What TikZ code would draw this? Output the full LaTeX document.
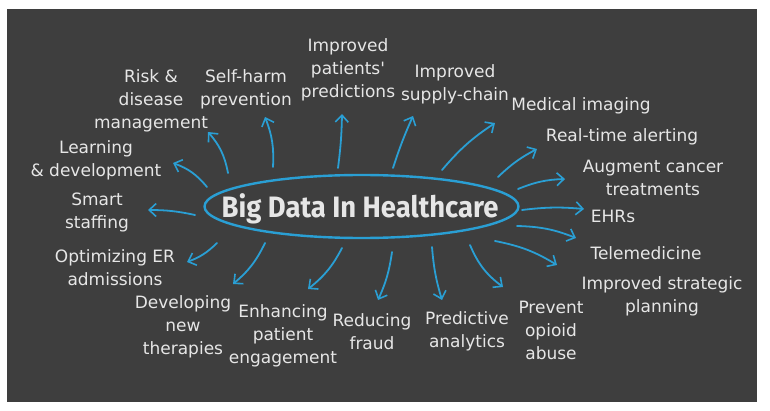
\documentclass[tikz,border=0pt]{standalone}
\usepackage{fontspec}
\usepackage{graphicx}
\usetikzlibrary{arrows.meta,shapes.geometric}
\newfontfamily\chalkfont{DejaVu Sans}
\newfontfamily\titlefont{Fira Sans}
\definecolor{board}{HTML}{3E3E3E}
\definecolor{chalk}{HTML}{E6E6E6}
\definecolor{chalkblue}{HTML}{2A9FD4}
\begin{document}
\begin{tikzpicture}[x=1pt,y=1pt,
  lbl/.style={font=\chalkfont\fontsize{17}{23}\selectfont, text=chalk, align=center, inner sep=0pt},
  arr/.style={draw=chalkblue, line width=1.8pt, line cap=round,
    -{Straight Barb[length=7pt,width=13pt,line width=1.6pt]}},
  hubstyle/.style={draw=chalkblue, line width=2.4pt, ellipse, inner sep=0pt,
    minimum width=314pt, minimum height=63pt}
]
\useasboundingbox (0,0) rectangle (770,410);
\fill[white] (0,0) rectangle (770,410);
\fill[board] (7,8) rectangle (757,401);

% central hub
\node[hubstyle] (hub) at (361.5,203.5) {};
\node[font=\titlefont\bfseries\fontsize{29.5}{32}\selectfont, text=chalk, anchor=base, inner sep=0pt]
  (title) at (360,193) {\scalebox{0.93}[1]{Big Data In Healthcare}};

% labels
\node[lbl] (risk) at (151,309.5) {Risk \&\\disease\\management};
\node[lbl] (selfharm) at (246,321) {Self-harm\\prevention};
\node[lbl] (patients) at (348,340) {Improved\\patients'\\predictions};
\node[lbl] (supply) at (455,325.5) {Improved\\supply-chain};
\node[lbl] (imaging) at (581,304) {Medical imaging};
\node[lbl] (alerting) at (622,273) {Real-time alerting};
\node[lbl] (cancer) at (653,232) {Augment cancer\\treatments};
\node[lbl] (ehrs) at (613,194) {EHRs};
\node[lbl] (tele) at (646,157) {Telemedicine};
\node[lbl] (strategic) at (662,113.5) {Improved strategic\\planning};
\node[lbl] (opioid) at (551,80) {Prevent\\opioid\\abuse};
\node[lbl] (predictive) at (467,78.5) {Predictive\\analytics};
\node[lbl] (fraud) at (372,78.5) {Reducing\\fraud};
\node[lbl] (engagement) at (283,74.5) {Enhancing\\patient\\engagement};
\node[lbl] (therapies) at (183,83.5) {Developing\\new\\therapies};
\node[lbl] (er) at (115,142) {Optimizing ER\\admissions};
\node[lbl] (staffing) at (97,197.5) {Smart\\staffing};
\node[lbl] (learning) at (96,250) {Learning\\\& development};

% arrow end points
\coordinate (learningS) at (207,223);   \coordinate (learningE) at (173,247);
\coordinate (riskS) at (228,237);       \coordinate (riskE) at (208,278);
\coordinate (selfharmS) at (273,243);   \coordinate (selfharmE) at (265,293);
\coordinate (patientsS) at (338,242);   \coordinate (patientsE) at (342,296);
\coordinate (supplyS) at (393,242);     \coordinate (supplyE) at (413,294);
\coordinate (imagingS) at (442,240);    \coordinate (imagingE) at (495,287);
\coordinate (alertingS) at (498,233);   \coordinate (alertingE) at (537,261);
\coordinate (cancerS) at (518,221);     \coordinate (cancerE) at (565,231);
\coordinate (ehrsS) at (522,200);       \coordinate (ehrsE) at (584,201);
\coordinate (teleS) at (517,184);       \coordinate (teleE) at (576,172);
\coordinate (strategicS) at (495,169);  \coordinate (strategicE) at (557,145);
\coordinate (opioidS) at (470,165);     \coordinate (opioidE) at (503,123);
\coordinate (predictiveS) at (432,163); \coordinate (predictiveE) at (442,110);
\coordinate (fraudS) at (392,158);      \coordinate (fraudE) at (378,110);
\coordinate (engagementS) at (342,162); \coordinate (engagementE) at (308,121);
\coordinate (therapiesS) at (265,167);  \coordinate (therapiesE) at (233,126);
\coordinate (erS) at (217,167);         \coordinate (erE) at (187,148);
\coordinate (staffingS) at (195,195);   \coordinate (staffingE) at (148,200);

% arrows
\draw[arr] (learningS) to[bend right=15] (learningE);
\draw[arr] (riskS) to[bend right=15] (riskE);
\draw[arr] (selfharmS) to[bend right=12] (selfharmE);
\draw[arr] (patientsS) to[bend right=3] (patientsE);
\draw[arr] (supplyS) to[bend left=3] (supplyE);
\draw[arr] (imagingS) to[bend left=8] (imagingE);
\draw[arr] (alertingS) to[bend left=8] (alertingE);
\draw[arr] (cancerS) to[bend left=10] (cancerE);
\draw[arr] (ehrsS) to[bend left=6] (ehrsE);
\draw[arr] (teleS) to[bend left=10] (teleE);
\draw[arr] (strategicS) to[bend left=10] (strategicE);
\draw[arr] (opioidS) to[bend right=15] (opioidE);
\draw[arr] (predictiveS) to[bend right=6] (predictiveE);
\draw[arr] (fraudS) to[bend left=8] (fraudE);
\draw[arr] (engagementS) to[bend left=12] (engagementE);
\draw[arr] (therapiesS) to[bend left=12] (therapiesE);
\draw[arr] (erS) to[bend left=12] (erE);
\draw[arr] (staffingS) to[bend right=6] (staffingE);
\end{tikzpicture}
\end{document}
